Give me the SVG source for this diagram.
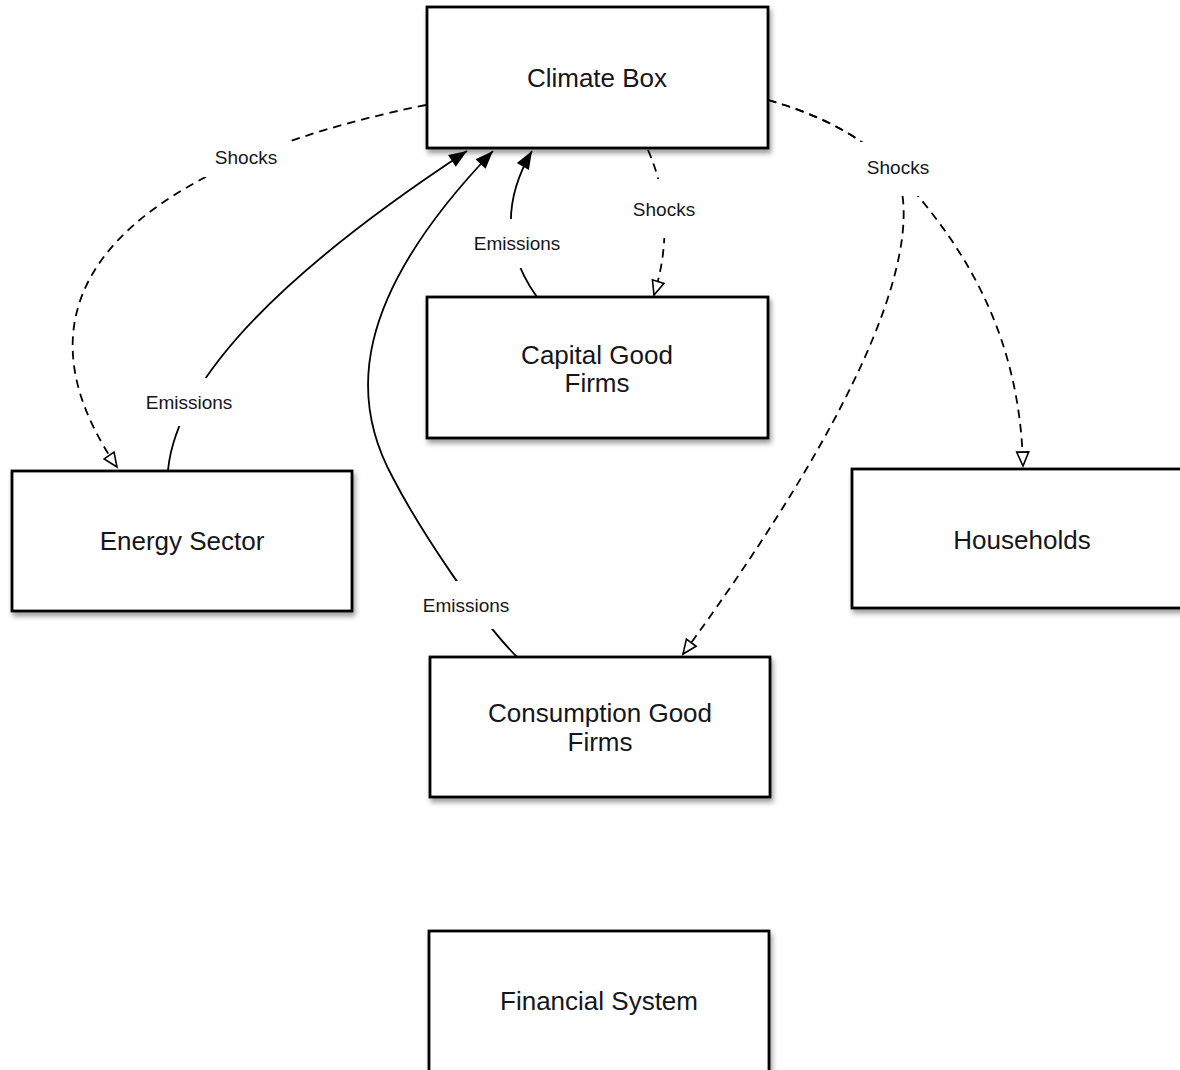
<svg xmlns="http://www.w3.org/2000/svg" width="1180" height="1070" viewBox="0 0 1180 1070">
<defs>
<filter id="sh" x="-10%" y="-10%" width="130%" height="130%">
<feDropShadow dx="2" dy="4" stdDeviation="2.5" flood-color="#000" flood-opacity="0.38"/>
</filter>
<marker id="filled" markerUnits="userSpaceOnUse" markerWidth="20" markerHeight="16" refX="18" refY="7" orient="auto" overflow="visible">
<path d="M0,0 L18,7 L0,14 z" fill="#000"/>
</marker>
<marker id="open" markerUnits="userSpaceOnUse" markerWidth="18" markerHeight="16" refX="15" refY="6.5" orient="auto" overflow="visible">
<path d="M1,0.5 L15,6.5 L1,12.5 z" fill="#fff" stroke="#000" stroke-width="1.6" stroke-linejoin="miter"/>
</marker>
</defs>
<style>
.box{fill:#fff;stroke:#000;stroke-width:2.8;filter:url(#sh)}
.nt{font-family:"Liberation Sans",Arial,sans-serif;font-size:26px;fill:#15151c;text-anchor:middle}
.lt{font-family:"Liberation Sans",Arial,sans-serif;font-size:19px;fill:#15151c;text-anchor:middle}
.em{fill:none;stroke:#000;stroke-width:1.8;marker-end:url(#filled)}
.sk{fill:none;stroke:#000;stroke-width:1.8;stroke-dasharray:8.5 6;marker-end:url(#open)}
.bg{fill:#fff}
</style>
<rect width="1180" height="1070" fill="#fff"/>

<g id="connectors">
<path class="sk" d="M426 105 C200 150, -25 260, 117 467"/>
<path class="em" d="M168 470 C175 400, 240 300, 467 151"/>
<path class="em" d="M537 297 C503 250, 503 200, 532 151"/>
<path class="em" d="M517 657 C480 620, 420 530, 393 478 C350 400, 350 300, 493 151"/>
<path class="sk" d="M648 150 C670 200, 668 250, 654 295"/>
<path class="sk" d="M768 100 C820 115, 860 135, 895 170 C960 240, 1020 330, 1023 466"/>
<path class="sk" d="M768 100 C820 115, 860 135, 895 170 C915 210, 920 330, 683 654"/>
<g id="edge-labels">
<rect class="bg" x="203" y="141" width="88" height="36"/>
<text class="lt" x="246" y="164">Shocks</text>
<rect class="bg" x="140" y="378" width="100" height="48"/>
<text class="lt" x="189" y="409">Emissions</text>
<rect class="bg" x="468" y="219" width="98" height="49"/>
<text class="lt" x="517" y="250">Emissions</text>
<rect class="bg" x="626" y="179" width="76" height="59"/>
<text class="lt" x="664" y="216">Shocks</text>
<rect class="bg" x="856" y="142" width="84" height="54"/>
<text class="lt" x="898" y="174">Shocks</text>
<rect class="bg" x="416" y="581" width="100" height="48"/>
<text class="lt" x="466" y="612">Emissions</text>
</g>
</g>

<g id="climate-box">
<rect class="box" x="427" y="7" width="341" height="141"/>
<text class="nt" x="597" y="87">Climate Box</text>
</g>
<g id="capital-good-firms">
<rect class="box" x="427" y="297" width="341" height="141"/>
<text class="nt" x="597" y="364">Capital Good</text>
<text class="nt" x="597" y="392">Firms</text>
</g>
<g id="energy-sector">
<rect class="box" x="12" y="471" width="340" height="140"/>
<text class="nt" x="182" y="550">Energy Sector</text>
</g>
<g id="households">
<rect class="box" x="852" y="469" width="340" height="139"/>
<text class="nt" x="1022" y="549">Households</text>
</g>
<g id="consumption-good-firms">
<rect class="box" x="430" y="657" width="340" height="140"/>
<text class="nt" x="600" y="722" fill="#000">Consumption Good</text>
<text class="nt" x="600" y="751" fill="#000">Firms</text>
</g>
<g id="financial-system">
<rect class="box" x="429" y="931" width="340" height="150"/>
<text class="nt" x="599" y="1010">Financial System</text>
</g>
</svg>
